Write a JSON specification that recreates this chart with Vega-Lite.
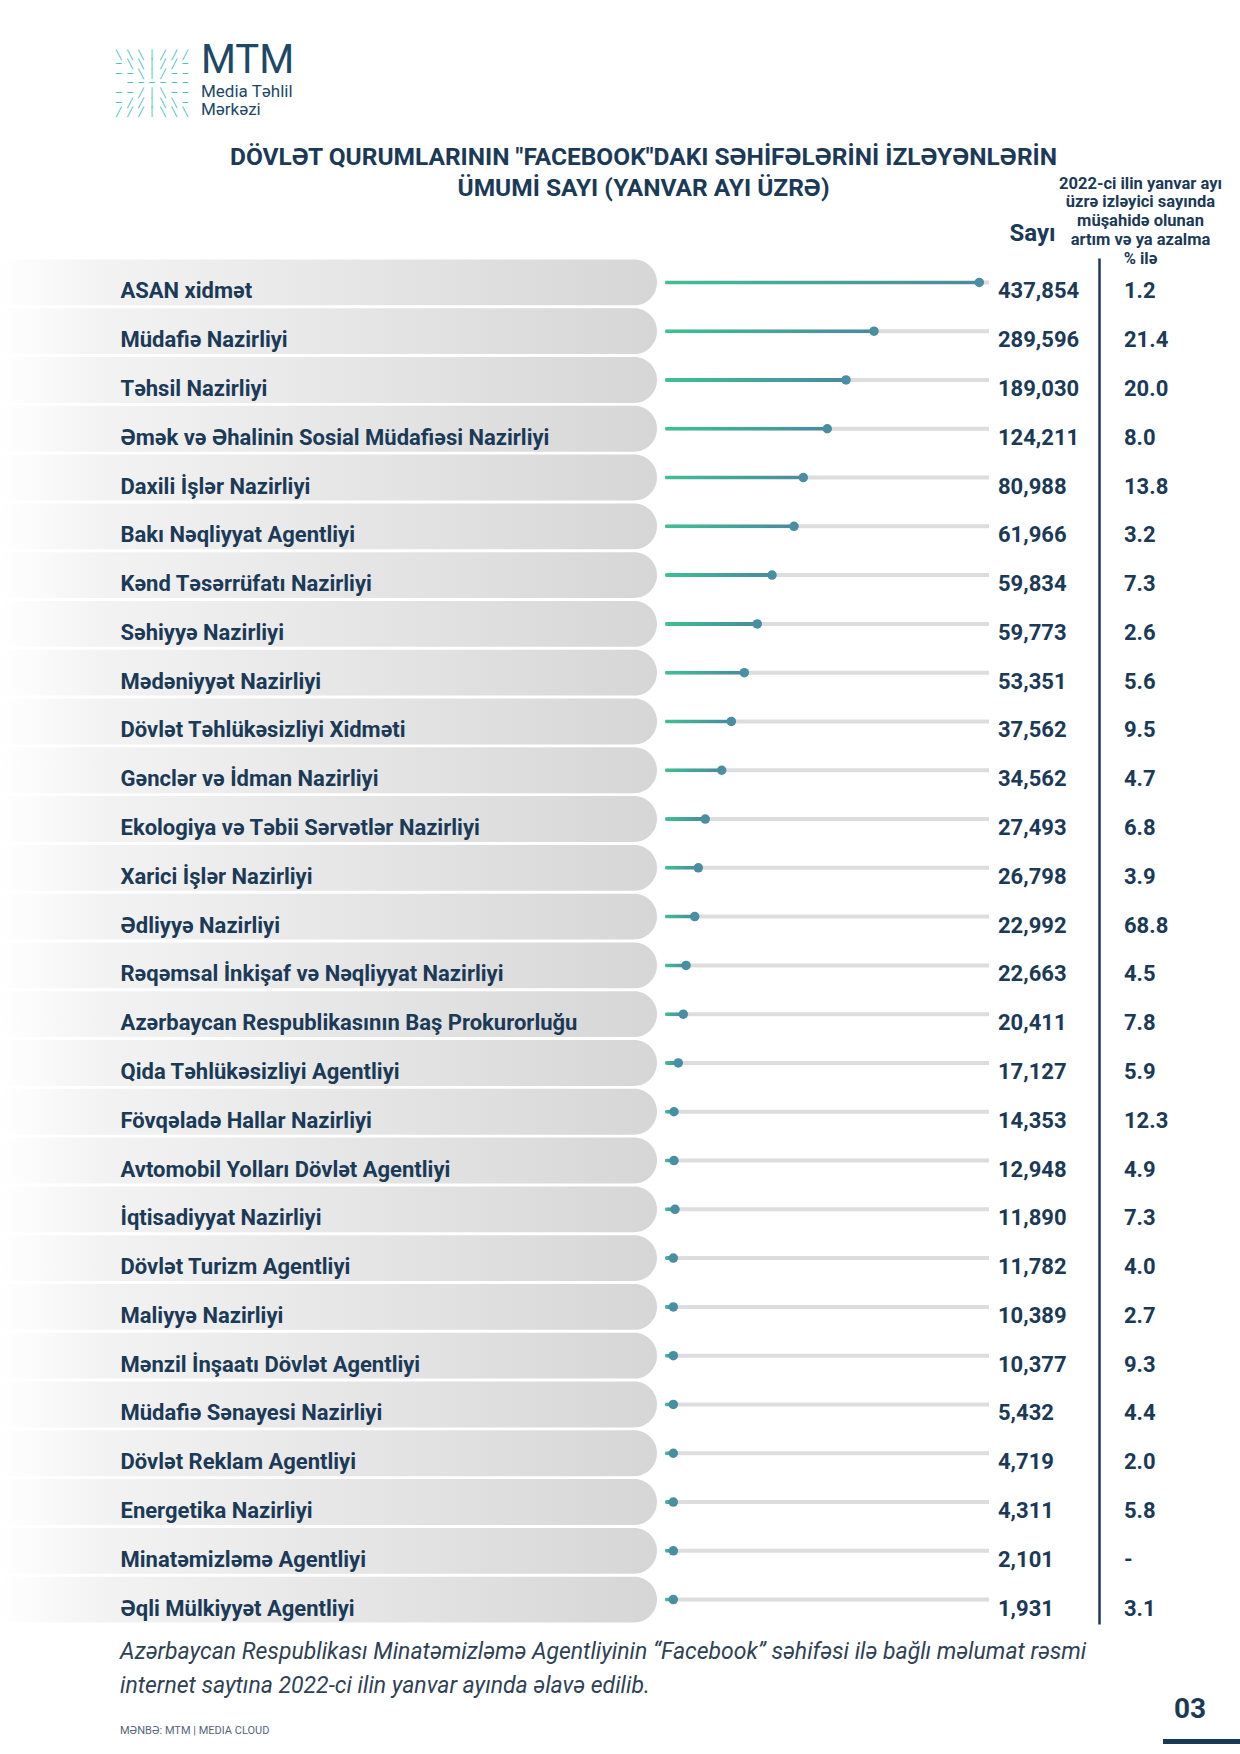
{
  "$schema": "https://vega.github.io/schema/vega-lite/v6.json",
  "background": "white",
  "padding": {"left": 0, "top": 40, "right": 0, "bottom": 0},
  "spacing": 16,
  "config": {"view": {"stroke": null, "fill": "white"}, "font": "Roboto"},
  "datasets": {
    "rows": [
      {"name": "ASAN xidmət", "count": 437854, "pct": "1.2", "drawn": 437854},
      {"name": "Müdafiə Nazirliyi", "count": 289596, "pct": "21.4", "drawn": 291200},
      {"name": "Təhsil Nazirliyi", "count": 189030, "pct": "20.0", "drawn": 252200},
      {"name": "Əmək və Əhalinin Sosial Müdafiəsi Nazirliyi", "count": 124211, "pct": "8.0", "drawn": 226100},
      {"name": "Daxili İşlər Nazirliyi", "count": 80988, "pct": "13.8", "drawn": 192700},
      {"name": "Bakı Nəqliyyat Agentliyi", "count": 61966, "pct": "3.2", "drawn": 179700},
      {"name": "Kənd Təsərrüfatı Nazirliyi", "count": 59834, "pct": "7.3", "drawn": 149100},
      {"name": "Səhiyyə Nazirliyi", "count": 59773, "pct": "2.6", "drawn": 128600},
      {"name": "Mədəniyyət Nazirliyi", "count": 53351, "pct": "5.6", "drawn": 110500},
      {"name": "Dövlət Təhlükəsizliyi Xidməti", "count": 37562, "pct": "9.5", "drawn": 92400},
      {"name": "Gənclər və İdman Nazirliyi", "count": 34562, "pct": "4.7", "drawn": 79000},
      {"name": "Ekologiya və Təbii Sərvətlər Nazirliyi", "count": 27493, "pct": "6.8", "drawn": 56100},
      {"name": "Xarici İşlər Nazirliyi", "count": 26798, "pct": "3.9", "drawn": 46400},
      {"name": "Ədliyyə Nazirliyi", "count": 22992, "pct": "68.8", "drawn": 41400},
      {"name": "Rəqəmsal İnkişaf və Nəqliyyat Nazirliyi", "count": 22663, "pct": "4.5", "drawn": 29300},
      {"name": "Azərbaycan Respublikasının Baş Prokurorluğu", "count": 20411, "pct": "7.8", "drawn": 25500},
      {"name": "Qida Təhlükəsizliyi Agentliyi", "count": 17127, "pct": "5.9", "drawn": 18500},
      {"name": "Fövqəladə Hallar Nazirliyi", "count": 14353, "pct": "12.3", "drawn": 12500},
      {"name": "Avtomobil Yolları Dövlət Agentliyi", "count": 12948, "pct": "4.9", "drawn": 12500},
      {"name": "İqtisadiyyat Nazirliyi", "count": 11890, "pct": "7.3", "drawn": 13900},
      {"name": "Dövlət Turizm Agentliyi", "count": 11782, "pct": "4.0", "drawn": 11600},
      {"name": "Maliyyə Nazirliyi", "count": 10389, "pct": "2.7", "drawn": 11600},
      {"name": "Mənzil İnşaatı Dövlət Agentliyi", "count": 10377, "pct": "9.3", "drawn": 11600},
      {"name": "Müdafiə Sənayesi Nazirliyi", "count": 5432, "pct": "4.4", "drawn": 11600},
      {"name": "Dövlət Reklam Agentliyi", "count": 4719, "pct": "2.0", "drawn": 11600},
      {"name": "Energetika Nazirliyi", "count": 4311, "pct": "5.8", "drawn": 11600},
      {"name": "Minatəmizləmə Agentliyi", "count": 2101, "pct": "-", "drawn": 11600},
      {"name": "Əqli Mülkiyyət Agentliyi", "count": 1931, "pct": "3.1", "drawn": 11600}
    ]
  },
  "vconcat": [
    {
      "spacing": 13,
      "hconcat": [
        {
          "width": 188, "height": 5,
          "data": {"values": [{}]},
          "mark": {"type": "text"},
          "encoding": {},
          "title": {
            "text": ["╲ ╲ ╲ │ ╱ ╱ ╱", "─ ╲ ╲ │ ╱ ╱ ─", "─ ─ ╲ │ ╱ ─ ─", "─ ─ ─   ─ ─ ─", "─ ─ ╱ │ ╲ ─ ─", "─ ╱ ╱ │ ╲ ╲ ─", "╱ ╱ ╱ │ ╲ ╲ ╲"],
            "anchor": "end", "font": "DejaVu Sans Mono", "fontSize": 9.2, "lineHeight": 9.6,
            "fontWeight": "bold", "color": "#22b8b0", "offset": 0
          }
        },
        {
          "width": 200, "height": 5,
          "data": {"values": [{}]},
          "mark": {"type": "text"},
          "encoding": {},
          "title": {
            "text": "MTM", "subtitle": ["Media Təhlil", "Mərkəzi"],
            "anchor": "start", "font": "Roboto", "fontSize": 40, "fontWeight": "normal", "color": "#1c4966",
            "subtitleFont": "Roboto", "subtitleFontSize": 17, "subtitleColor": "#1c4966",
            "subtitleLineHeight": 18, "subtitlePadding": 3, "offset": 0
          }
        }
      ]
    },
    {
      "spacing": 8,
      "bounds": "flush",
      "hconcat": [
        {
          "width": 657, "height": 1366,
          "data": {"name": "rows"},
          "title": {
            "text": ["DÖVLƏT QURUMLARININ \"FACEBOOK\"DAKI SƏHİFƏLƏRİNİ İZLƏYƏNLƏRİN", "ÜMUMİ SAYI (YANVAR AYI ÜZRƏ)"],
            "anchor": "middle", "dx": 315, "offset": 56.5,
            "font": "Roboto", "fontSize": 24.5, "fontWeight": "bold",
            "color": "#1b3a57", "lineHeight": 31
          },
          "mark": {
            "type": "rect", "cornerRadiusTopRight": 23, "cornerRadiusBottomRight": 23,
            "fill": {"gradient": "linear", "x1": 0, "y1": 0, "x2": 1, "y2": 0,
              "stops": [{"offset": 0, "color": "#ffffff"}, {"offset": 0.15, "color": "#f3f3f3"}, {"offset": 1, "color": "#d6d6d6"}]}
          },
          "encoding": {
            "y": {
              "field": "name", "type": "nominal", "sort": null,
              "scale": {"type": "band", "paddingInner": 0.06, "paddingOuter": 0.03},
              "axis": {
                "orient": "left", "domain": false, "ticks": false, "tickSize": 0, "grid": false, "title": null,
                "labelAlign": "left", "labelBaseline": "middle", "labelPadding": -120, "labelOffset": 9,
                "labelLimit": 0, "labelFont": "Roboto", "labelFontSize": 22, "labelFontWeight": "bold",
                "labelColor": "#1b3a57", "zindex": 1
              }
            }
          }
        },
        {
          "width": 324, "height": 1366,
          "data": {"name": "rows"},
          "encoding": {
            "y": {"field": "name", "type": "nominal", "sort": null,
              "scale": {"type": "band", "paddingInner": 0.06, "paddingOuter": 0.03}, "axis": null}
          },
          "layer": [
            {"mark": {"type": "bar", "height": 4, "color": "#dddddd"}},
            {
              "mark": {"type": "bar", "height": 4, "cornerRadius": 2,
                "color": {"gradient": "linear", "x1": 0, "y1": 0, "x2": 1, "y2": 0,
                  "stops": [{"offset": 0, "color": "#3cc194"}, {"offset": 1, "color": "#4a8a9e"}]}},
              "encoding": {"x": {"field": "drawn", "type": "quantitative", "scale": {"domain": [0, 451400], "nice": false}, "axis": null}}
            },
            {
              "mark": {"type": "point", "filled": true, "size": 90, "opacity": 1, "color": "#4a8ea3"},
              "encoding": {"x": {"field": "drawn", "type": "quantitative", "scale": {"domain": [0, 451400], "nice": false}, "axis": null}}
            }
          ]
        },
        {
          "width": 243, "height": 1366,
          "data": {"name": "rows"},
          "transform": [{"fold": ["count", "pct"], "as": ["col", "val"]}],
          "encoding": {
            "x": {
              "field": "col", "type": "nominal",
              "scale": {"type": "point", "domain": ["count", "pct"], "range": [1, 127], "padding": 0},
              "axis": {
                "orient": "top", "domain": false, "ticks": false, "grid": false, "title": null,
                "labelAngle": 0, "labelAlign": "center", "labelBaseline": "bottom",
                "labelPadding": {"condition": {"test": "datum.value == 'count'", "value": 13}, "value": 67},
                "labelLimit": 0, "labelLineHeight": 18.8, "labelOverlap": false,
                "labelFont": "Roboto", "labelFontWeight": "bold", "labelColor": "#1b3a57",
                "labelFontSize": {"condition": {"test": "datum.value == 'count'", "value": 24}, "value": 16.5},
                "labelOffset": {"condition": {"test": "datum.value == 'count'", "value": 34}, "value": 16},
                "labelExpr": "datum.value == 'count' ? 'Sayı' : ['2022-ci ilin yanvar ayı', 'üzrə izləyici sayında', 'müşahidə olunan', 'artım və ya azalma', '% ilə']"
              }
            },
            "y": {
              "field": "name", "type": "nominal", "sort": null,
              "scale": {"type": "band", "paddingInner": 0.06, "paddingOuter": 0.03},
              "axis": {
                "orient": "left", "labels": false, "ticks": false, "grid": false, "title": null,
                "domain": true, "domainColor": "#1b3a57", "domainWidth": 2.5, "offset": -102, "zindex": 1
              }
            }
          },
          "layer": [
            {
              "transform": [{"filter": "datum.col == 'count'"}],
              "mark": {"type": "text", "align": "left", "baseline": "middle", "dy": 9, "font": "Roboto", "fontSize": 22, "fontWeight": "bold", "color": "#1b3a57"},
              "encoding": {"text": {"field": "val", "type": "quantitative", "format": ","}}
            },
            {
              "transform": [{"filter": "datum.col == 'pct'"}],
              "mark": {"type": "text", "align": "left", "baseline": "middle", "dy": 9, "font": "Roboto", "fontSize": 22, "fontWeight": "bold", "color": "#1b3a57"},
              "encoding": {"text": {"field": "val", "type": "nominal"}}
            }
          ]
        }
      ]
    },
    {
      "spacing": 0,
      "hconcat": [
        {
          "width": 1163, "height": 5,
          "data": {"values": [{}]},
          "mark": {"type": "text"},
          "encoding": {},
          "title": {
            "text": ["Azərbaycan Respublikası Minatəmizləmə Agentliyinin “Facebook” səhifəsi ilə bağlı məlumat rəsmi", "internet saytına 2022-ci ilin yanvar ayında əlavə edilib."],
            "subtitle": "MƏNBƏ:   MTM  |  MEDIA CLOUD",
            "anchor": "start", "dx": 120, "offset": 0, "font": "Roboto", "fontSize": 23,
            "fontStyle": "italic", "fontWeight": "normal", "color": "#2f4255", "lineHeight": 34,
            "subtitleFont": "Roboto", "subtitleFontSize": 11, "subtitleFontStyle": "normal",
            "subtitleColor": "#55657a", "subtitlePadding": 27
          }
        },
        {
          "width": 77, "height": 5,
          "data": {"values": [{}]},
          "mark": {"type": "rect", "color": "#1b3a57"},
          "encoding": {},
          "title": {"text": "03", "anchor": "start", "dx": 11, "font": "Roboto", "fontSize": 28,
            "fontWeight": "bold", "color": "#1b3a57", "offset": 15}
        }
      ]
    }
  ]
}
